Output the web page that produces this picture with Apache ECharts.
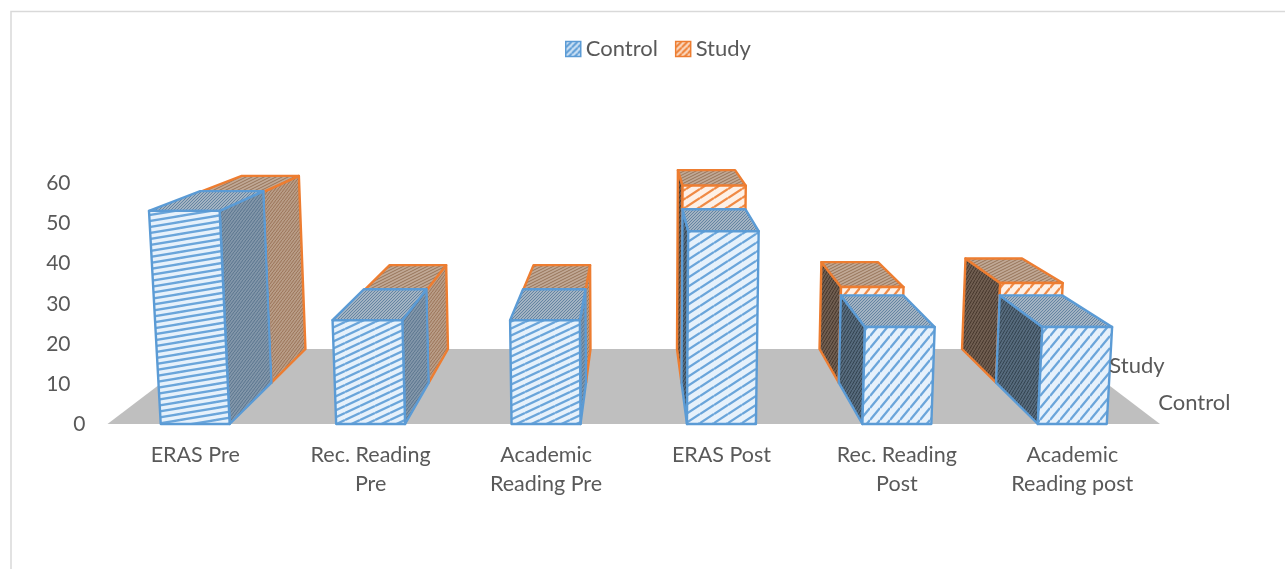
<!DOCTYPE html>
<html>
<head>
<meta charset="utf-8">
<title>Control vs Study</title>
<script src="https://cdn.jsdelivr.net/npm/echarts@6/dist/echarts.min.js"></script>
<style>
  html, body { margin: 0; padding: 0; background: #fff; }
  #chart { width: 1285px; height: 569px; }
</style>
</head>
<body>
<div id="chart"></div>
<script>
const categories = ['ERAS Pre', 'Rec. Reading\nPre', 'Academic\nReading Pre', 'ERAS Post', 'Rec. Reading\nPost', 'Academic\nReading post']
const controlValues = [52.7, 26, 26, 47.8, 24.3, 24.3]
const studyValues = [52.5, 25.7, 25.7, 54.2, 26.6, 27.7]
const depthNames = ['Control', 'Study']

const BLUE = '#5b9bd5'
const ORANGE = '#ed7d31'
const FONT = 'Lato, "Open Sans", sans-serif'
const TEXT = '#595959'

// fake 3d camera, fitted by eye on the floor and box edges
const DEPTH = 0.2308
const TILT = 0.000114
const STRETCH = 1.0265
const VANISH_UP = 400
const BAR_RATIO = 0.393

// stripe fill: one line per tile, wraps so the tile repeats
function tile(w, h, base, ink, lw) {
  const c = document.createElement('canvas')
  c.width = w
  c.height = h
  const g = c.getContext('2d')
  g.fillStyle = base
  g.fillRect(0, 0, w, h)
  g.strokeStyle = ink
  g.lineWidth = lw
  for (let i = -1; i <= 1; i++) {
    g.beginPath()
    g.moveTo(0, h + i * h)
    g.lineTo(w, i * h)
    g.stroke()
  }
  return { image: c, repeat: 'repeat' }
}

// front stripes get steeper from left to right in the original
const stripeShape = [[36, 6], [15, 7], [15, 7], [14, 9], [10, 12], [10, 12]]
const frontFill = {
  Control: stripeShape.map(s => tile(s[0], s[1], '#e6f1fb', '#6aa5da', 2.3)),
  Study: stripeShape.map(s => tile(s[0], s[1], '#fef0e6', '#f08a45', 2.3))
}
const topFill = {
  Control: tile(3, 3, '#a3b3c2', '#6484a2', 1),
  Study: tile(6, 3, '#c0a895', '#96745a', 1)
}
const sideFill = {
  Control: { lit: tile(3, 4, '#8296a9', '#5a758e', 1), dark: tile(3, 5, '#566a7c', '#33434f', 1) },
  Study: { lit: tile(3, 4, '#b89c86', '#9a7458', 1), dark: tile(3, 5, '#6f5d50', '#46372c', 1) }
}

function camera(coordSys) {
  const base = coordSys.y + coordSys.height
  const cx = coordSys.x + coordSys.width / 2
  return function (px, rise, z) {
    const w = 1 + DEPTH * z - TILT * rise
    return [
      cx + (px - cx) / w,
      (base + (base - VANISH_UP) * DEPTH * z - STRETCH * rise) / w
    ]
  }
}

function boxSeries(name, values, z0, z1, color) {
  return {
    name: name,
    type: 'custom',
    coordinateSystem: 'cartesian2d',
    data: values.map((v, i) => [i, v]),
    itemStyle: { color: color },
    renderItem(params, api) {
      const i = api.value(0)
      const foot = api.coord([i, 0])
      const head = api.coord([i, api.value(1)])
      const half = api.size([1, 0])[0] * BAR_RATIO / 2
      const rise = foot[1] - head[1]
      const cam = camera(params.coordSys)
      const l = foot[0] - half
      const r = foot[0] + half
      const cx = params.coordSys.x + params.coordSys.width / 2
      const leftOfCentre = r < cx
      const sx = leftOfCentre ? r : l
      const stroke = { stroke: color, lineWidth: 2.4, lineJoin: 'round' }
      const face = (points, fill) => ({
        type: 'polygon',
        shape: { points: points },
        style: Object.assign({ fill: fill }, stroke)
      })
      return {
        type: 'group',
        children: [
          face([cam(sx, 0, z0), cam(sx, 0, z1), cam(sx, rise, z1), cam(sx, rise, z0)],
            leftOfCentre ? sideFill[name].lit : sideFill[name].dark),
          face([cam(l, rise, z0), cam(r, rise, z0), cam(r, rise, z1), cam(l, rise, z1)], topFill[name]),
          face([cam(l, 0, z0), cam(r, 0, z0), cam(r, rise, z0), cam(l, rise, z0)], frontFill[name][i])
        ]
      }
    }
  }
}

const myChart = echarts.init(document.getElementById('chart'), null, { renderer: 'canvas' })

const option = {
  animation: false,
  backgroundColor: '#fff',
  textStyle: { fontFamily: FONT },
  graphic: [
    {
      type: 'polyline',
      silent: true,
      shape: { points: [[11, 569], [11, 11.5], [1285, 11.5]] },
      style: { stroke: '#d9d9d9', fill: null, lineWidth: 1.5 }
    }
  ],
  legend: {
    left: 560,
    top: 33,
    itemWidth: 15,
    itemHeight: 15,
    itemGap: 17,
    textStyle: { fontFamily: FONT, fontSize: 22, color: TEXT },
    data: [
      { name: 'Control', icon: 'rect', itemStyle: { color: tile(6, 6, '#cfe3f5', BLUE, 2), borderColor: BLUE, borderWidth: 1.5 } },
      { name: 'Study', icon: 'rect', itemStyle: { color: tile(6, 6, '#fbdcc6', ORANGE, 2), borderColor: ORANGE, borderWidth: 1.5 } }
    ]
  },
  grid: { left: 107.5, top: 182, width: 1052.5, height: 242 },
  xAxis: {
    type: 'category',
    data: categories,
    axisLine: { show: false },
    axisTick: { show: false },
    axisLabel: {
      interval: 0,
      margin: 17,
      fontFamily: FONT,
      fontSize: 21.5,
      lineHeight: 29,
      color: TEXT
    }
  },
  yAxis: {
    type: 'value',
    min: 0,
    max: 60,
    interval: 10,
    axisLine: { show: false },
    axisTick: { show: false },
    splitLine: { show: false },
    axisLabel: {
      margin: 22,
      formatter: v => (v === 0 ? '{zero|0}' : '{tick|' + v + '}'),
      rich: {
        zero: { fontFamily: FONT, fontSize: 21, color: TEXT },
        tick: { fontFamily: FONT, fontSize: 21, color: TEXT, padding: [2, 15, 0, 0] }
      }
    }
  },
  series: [
    {
      name: 'floor',
      type: 'custom',
      coordinateSystem: 'cartesian2d',
      silent: true,
      data: [[0, 0]],
      renderItem(params) {
        const cs = params.coordSys
        const cam = camera(cs)
        return {
          type: 'polygon',
          shape: {
            points: [cam(cs.x, 0, 0), cam(cs.x + cs.width, 0, 0), cam(cs.x + cs.width, 0, 1), cam(cs.x, 0, 1)]
          },
          style: { fill: '#bfbfbf' }
        }
      }
    },
    boxSeries('Study', studyValues, 0.5, 1, ORANGE),
    boxSeries('Control', controlValues, 0, 0.5, BLUE),
    {
      name: 'depth',
      type: 'custom',
      coordinateSystem: 'cartesian2d',
      silent: true,
      data: depthNames.map((n, i) => [i, 0]),
      renderItem(params, api) {
        const i = api.value(0)
        const cs = params.coordSys
        const p = camera(cs)(cs.x + cs.width, 0, 0.25 + i * 0.5)
        return {
          type: 'text',
          style: {
            text: depthNames[i],
            x: p[0] + 27,
            y: p[1] + 1,
            verticalAlign: 'middle',
            font: '22px ' + FONT,
            fill: TEXT
          }
        }
      }
    }
  ]
}
myChart.setOption(option)

window.addEventListener('resize', () => {
  myChart.resize()
})
</script>
</body>
</html>
